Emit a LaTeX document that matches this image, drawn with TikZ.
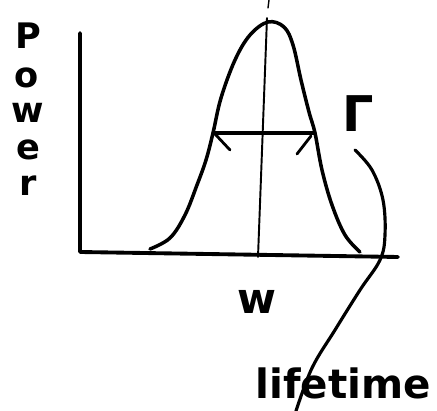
\documentclass[tikz,border=0pt]{standalone}
\usepackage{fontspec}
\setmainfont{DejaVu Sans}
\usepackage{tikz}

\begin{document}
\begin{tikzpicture}[x=0.02cm,y=-0.02cm,line cap=round,line join=round]
\useasboundingbox (0,0) rectangle (437,411);
% axes
\draw[line width=2.2pt] (80,33)--(80,252)--(398,257);
% spectral line
\draw[line width=2pt] plot[smooth,tension=0.6] coordinates {(150,249) (170,238) (185,215) (197,185) (206,160) (213,133) (221,98) (235,60) (250,35) (268,22) (284,27) (293,45) (301,80) (309,112) (315,133) (322,170) (332,205) (345,235) (360,252)};
% centre line
\draw[line width=0.8pt] (269,0)--(268,8);
\draw[line width=1.1pt] (267,18)--(258,257);
% width
\draw[line width=1.8pt] (213,133)--(315,133);
\draw[line width=1.6pt] (215,134)--(230,150);
\draw[line width=1.6pt] (311,136)--(297,154);
% labels
\node[font=\bfseries\fontsize{20}{20}\selectfont,inner sep=0pt] (p1) at (28,36) {P};
\node[font=\bfseries\fontsize{20}{20}\selectfont,inner sep=0pt] (p2) at (27,78) {o};
\node[font=\bfseries\fontsize{20}{20}\selectfont,inner sep=0pt] (p3) at (28,113) {w};
\node[font=\bfseries\fontsize{20}{20}\selectfont,inner sep=0pt] (p4) at (28,150) {e};
\node[font=\bfseries\fontsize{20}{20}\selectfont,inner sep=0pt] (p5) at (28,186) {r};
\node[font=\bfseries\fontsize{24}{24}\selectfont,inner sep=0pt] (omega) at (257,302) {w};
\node[font=\bfseries\fontsize{28}{28}\selectfont,inner sep=0pt] (gamma) at (358,114) {Γ};
\node[font=\bfseries\fontsize{23}{23}\selectfont,inner sep=0pt] (life) at (343,383) {lifetime};
% gamma to lifetime
\coordinate (g0) at (355,150);
\coordinate (l0) at (296,411);
\draw[line width=1.8pt] plot[smooth,tension=0.6] coordinates {(g0) (372,170) (383,200) (385,235) (380,260) (360,290) (335,330) (312,368) (l0)};
\end{tikzpicture}
\end{document}
